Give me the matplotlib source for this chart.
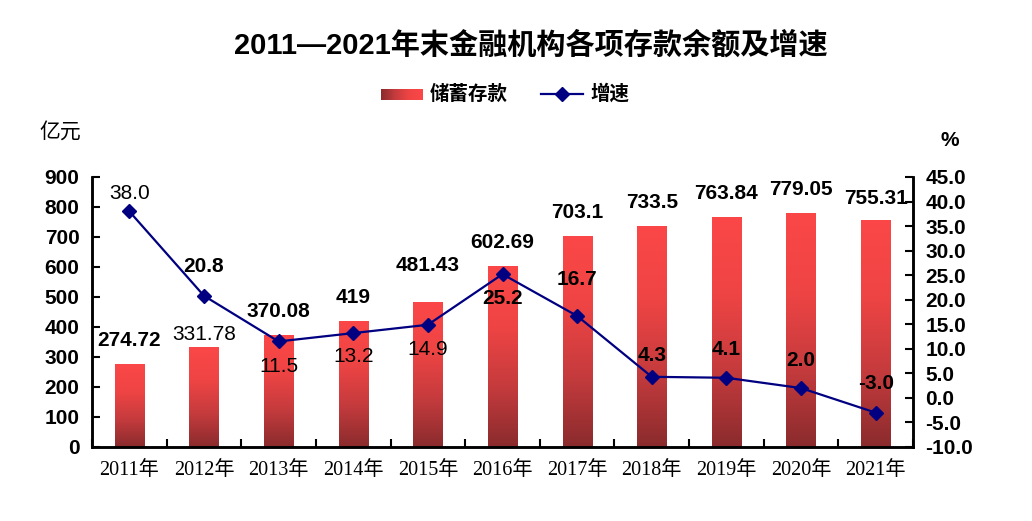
import numpy as np
import matplotlib
matplotlib.use('Agg')
import matplotlib.pyplot as plt
from matplotlib.colors import LinearSegmentedColormap

plt.rcParams['font.family'] = ['Liberation Sans', 'Noto Sans CJK SC']

years = ['2011年', '2012年', '2013年', '2014年', '2015年', '2016年',
         '2017年', '2018年', '2019年', '2020年', '2021年']
deposits = [274.72, 331.78, 370.08, 419, 481.43, 602.69, 703.1, 733.5, 763.84, 779.05, 755.31]
dep_text = ['274.72', '331.78', '370.08', '419', '481.43', '602.69', '703.1', '733.5', '763.84', '779.05', '755.31']
growth = [38.0, 20.8, 11.5, 13.2, 14.9, 25.2, 16.7, 4.3, 4.1, 2.0, -3.0]

# label styling (pixel offsets of label centres)
dep_bold = [True, False, True, True, True, True, True, True, True, True, True]
dep_dy = [24, 13, 24, 24, 37, 24, 24, 24, 24, 24, 22]
gr_bold = [False, True, False, False, False, True, True, True, True, True, True]
gr_dy = [18, 29, -25, -23, -25, -24, 36, 21, 28, 28, 29]

grad = LinearSegmentedColormap.from_list('bar', ['#8a2b2d', '#c53b3d', '#ef4444', '#fb4747'])
W, H = 1032, 521
serif = ['Liberation Serif', 'Noto Sans CJK SC']

fig = plt.figure(figsize=(W / 100, H / 100), dpi=100)
ax = fig.add_axes([92 / W, 1 - 447 / H, (913 - 92) / W, 270 / H])
ax2 = ax.twinx()

x = np.arange(len(years))
w = 0.39
g = np.linspace(0, 1, 256).reshape(-1, 1)
for xi, v in zip(x, deposits):
    ax.imshow(g, cmap=grad, origin='lower', aspect='auto',
              extent=[xi - w / 2, xi + w / 2, 0, v], zorder=2)
ax.set_xlim(-0.5, len(years) - 0.5)
ax.set_ylim(0, 900)
ax.set_yticks(range(0, 901, 100))

for xi, v, t, b, dy in zip(x, deposits, dep_text, dep_bold, dep_dy):
    ax.annotate(t, (xi, v), xytext=(0, dy), textcoords='offset pixels',
                ha='center', va='center', fontsize=15,
                fontweight='bold' if b else 'normal', zorder=5)

ax2.plot(x, growth, color='#000080', lw=1.6, marker='D', ms=7, zorder=4)
ax2.set_ylim(-10, 45)
ticks2 = np.arange(-10, 45.1, 5)
ax2.set_yticks(ticks2)
ax2.set_yticklabels([f'{v:.1f}' for v in ticks2])
for xi, v, b, dy in zip(x, growth, gr_bold, gr_dy):
    ax2.annotate(f'{v:.1f}', (xi, v), xytext=(0, dy), textcoords='offset pixels',
                 ha='center', va='center', fontsize=15,
                 fontweight='bold' if b else 'normal', zorder=5)

for a in (ax, ax2):
    a.spines['top'].set_visible(False)
    for s in ('left', 'right', 'bottom'):
        a.spines[s].set_linewidth(1.8)
    a.tick_params(axis='y', direction='in', length=6, width=1.5, labelsize=15, pad=9)
    for lab in a.get_yticklabels():
        lab.set_fontweight('bold')

ax.set_xticks(x)
ax.set_xticklabels(years, family=serif, fontsize=14.5)
ax.set_xticks(np.arange(-0.5, len(years), 1), minor=True)
ax.tick_params(axis='x', which='major', length=0, pad=10)
ax.tick_params(axis='x', which='minor', direction='in', length=6, width=1.5)

fig.text(531 / W, 1 - 45 / H, '2011—2021年末金融机构各项存款余额及增速', ha='center', va='center',
         fontsize=21, fontweight='bold')
fig.text(60 / W, 1 - 133 / H, '亿元', ha='center', va='center', fontsize=15, family=serif)
fig.text(950 / W, 1 - 141 / H, '%', ha='center', va='center', fontsize=15, fontweight='bold')

# legend drawn by hand: gradient swatch, line with marker
lg = fig.add_axes([381 / W, 1 - 100 / H, 42 / W, 11 / H])
lg.imshow(np.linspace(0, 1, 64).reshape(1, -1), cmap=grad, aspect='auto')
lg.axis('off')
fig.text(430 / W, 1 - 94 / H, '储蓄存款', ha='left', va='center', fontsize=14, fontweight='bold')
fig.add_artist(plt.Line2D([541 / W, 583 / W], [1 - 94 / H, 1 - 94 / H], color='#000080', lw=1.6))
fig.add_artist(plt.Line2D([562 / W], [1 - 94 / H], color='#000080', marker='D', ms=7))
fig.text(590 / W, 1 - 94 / H, '增速', ha='left', va='center', fontsize=14, fontweight='bold')

fig.savefig('out.png', dpi=100)
